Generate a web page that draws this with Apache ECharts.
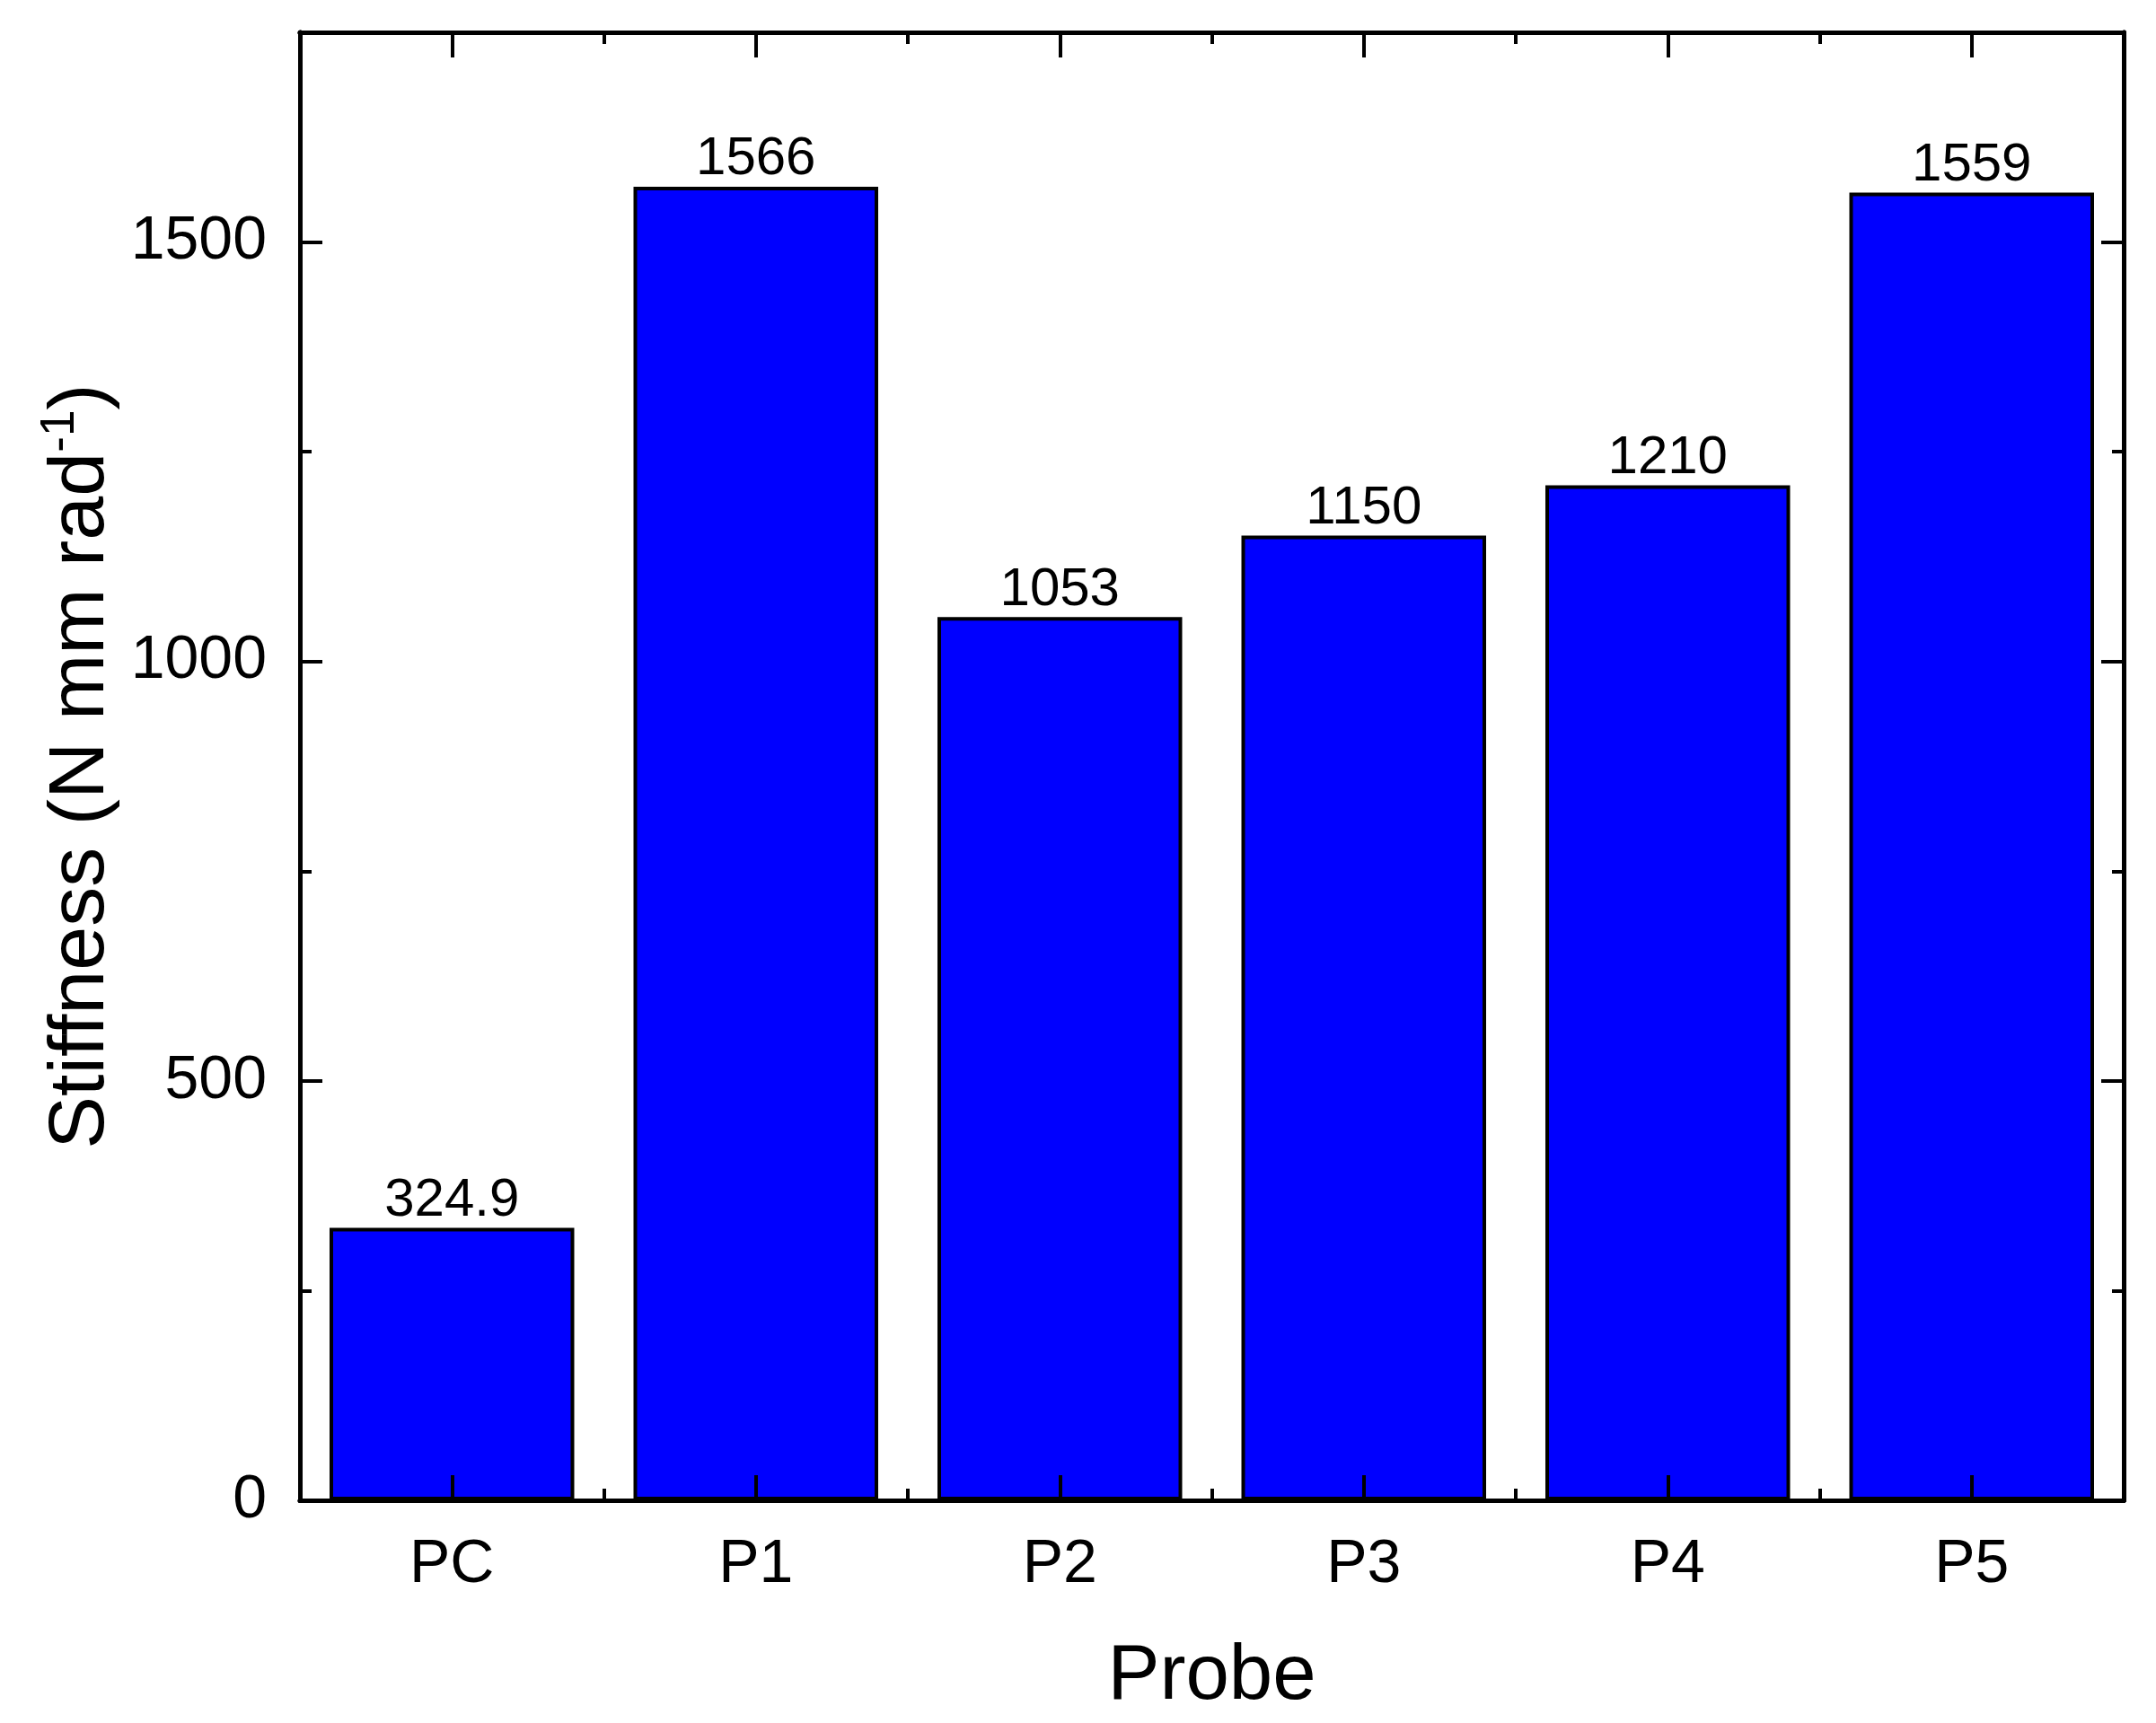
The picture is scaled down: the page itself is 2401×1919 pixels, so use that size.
<!DOCTYPE html>
<html>
<head>
<meta charset="utf-8">
<script src="https://cdn.jsdelivr.net/npm/echarts@6/dist/echarts.min.js"></script>
<style>
html,body{margin:0;padding:0;background:#fff;}
#chart{width:2401px;height:1919px;}
</style>
</head>
<body>
<div id="chart"></div>
<script>
const categories = ['PC', 'P1', 'P2', 'P3', 'P4', 'P5'];
const stiffness = [324.9, 1566, 1053, 1150, 1210, 1559];
const yMin = 0;
const yMax = 1750;
const yMajor = 500;
const yMinor = 250;

const FONT = '"Liberation Sans", Arial, sans-serif';
const chart = echarts.init(document.getElementById('chart'));

const gridRect = { left: 334, right: 36, top: 36, bottom: 248, containLabel: false };

function catAxis(gi, pos, major, showLabel, extra) {
  return Object.assign({
    gridIndex: gi,
    type: 'category',
    data: categories,
    position: pos,
    boundaryGap: true,
    z: 10,
    axisLine: { show: true, onZero: false, lineStyle: { color: '#000', width: 5 } },
    axisTick: { show: true, inside: true, alignWithLabel: major, length: major ? 28 : 13, lineStyle: { color: '#000', width: 4 } },
    axisLabel: { show: showLabel, color: '#000', fontFamily: FONT, fontSize: 68, margin: 38 },
    splitLine: { show: false }
  }, extra || {});
}
function valAxis(gi, pos, interval, len, showLabel, extra) {
  return Object.assign({
    gridIndex: gi,
    type: 'value',
    position: pos,
    min: yMin,
    max: yMax,
    interval: interval,
    z: 10,
    axisLine: { show: true, onZero: false, lineStyle: { color: '#000', width: 5 } },
    axisTick: { show: true, inside: true, length: len, lineStyle: { color: '#000', width: 4 } },
    axisLabel: { show: showLabel, color: '#000', fontFamily: FONT, fontSize: 68, margin: 37, showMaxLabel: false,
      formatter: function (v) { return String(v); } },
    splitLine: { show: false }
  }, extra || {});
}

chart.setOption({
  backgroundColor: '#fff',
  animation: false,
  grid: [
    Object.assign({}, gridRect),
    Object.assign({}, gridRect),
    Object.assign({}, gridRect),
    Object.assign({}, gridRect)
  ],
  xAxis: [
    catAxis(0, 'bottom', true, true, {
      name: 'Probe', nameLocation: 'middle', nameGap: 154,
      nameTextStyle: { color: '#000', fontFamily: FONT, fontSize: 87 }
    }),
    catAxis(1, 'bottom', false, false),
    catAxis(2, 'top', true, false),
    catAxis(3, 'top', false, false)
  ],
  yAxis: [
    valAxis(0, 'left', yMajor, 25, true, {
      name: 'Stiffness (N mm rad{sup|-1})', nameLocation: 'middle', nameGap: 190, nameRotate: 90,
      nameTextStyle: {
        color: '#000', fontFamily: FONT, fontSize: 88,
        rich: { sup: { color: '#000', fontFamily: FONT, fontSize: 53, verticalAlign: 'top', lineHeight: 100 } }
      }
    }),
    valAxis(1, 'left', yMinor, 13, false),
    valAxis(2, 'right', yMajor, 25, false),
    valAxis(3, 'right', yMinor, 13, false)
  ],
  series: [{
    type: 'bar',
    xAxisIndex: 0,
    yAxisIndex: 0,
    data: stiffness,
    barWidth: '80.5%',
    itemStyle: { color: '#0000FF', borderColor: '#000', borderWidth: 4 },
    label: { show: true, position: 'top', distance: 0, color: '#000', fontFamily: FONT, fontSize: 60, formatter: '{c}' }
  }]
});
</script>
</body>
</html>
